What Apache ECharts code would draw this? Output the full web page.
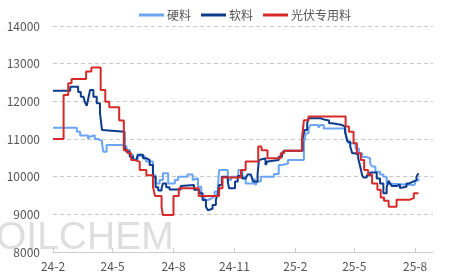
<!DOCTYPE html>
<html><head><meta charset="utf-8">
<script src="https://cdn.jsdelivr.net/npm/echarts@6/dist/echarts.min.js"></script>
<style>html,body{margin:0;padding:0;background:#fff}#c{width:457px;height:278px}</style>
</head><body><div id="c"></div>
<script>
var seriesNames = ['硬料', '软料', '光伏专用料'];
var tickDates = ['2024-02-01','2024-05-01','2024-08-01','2024-11-01','2025-02-01','2025-05-01','2025-08-01'];
var tickLabels = ['24-2','24-5','24-8','24-11','25-2','25-5','25-8'];
var startDate = '2024-02-01';
var endDate = '2025-08-28';
var yTicks = [8000, 9000, 10000, 11000, 12000, 13000, 14000];

var hardData = [
 ['2024-02-01',11300],['2024-03-08',11190],['2024-03-13',11090],['2024-03-25',11000],['2024-03-27',11060],
 ['2024-03-28',11100],['2024-04-04',11000],['2024-04-09',10950],['2024-04-15',10890],['2024-04-17',10660],
 ['2024-04-22',10840],['2024-05-14',10810],['2024-05-22',10710],['2024-05-27',10580],['2024-06-01',10460],
 ['2024-06-08',10550],['2024-06-18',10500],['2024-06-21',10400],['2024-07-01',10040],['2024-07-05',9820],
 ['2024-07-11',9910],['2024-07-16',10090],['2024-07-24',9820],['2024-08-03',9910],['2024-08-08',10000],
 ['2024-08-22',10060],['2024-08-30',9910],['2024-09-01',9960],['2024-09-07',9730],['2024-09-12',9470],
 ['2024-09-17',9380],['2024-09-22',9420],['2024-09-27',9470],['2024-10-02',9600],['2024-10-07',9720],
 ['2024-10-09',10180],['2024-10-22',9910],['2024-10-27',10000],['2024-11-07',10180],['2024-11-13',10000],
 ['2024-11-18',9820],['2024-12-01',9960],['2024-12-03',9780],['2024-12-06',9870],['2024-12-11',10000],
 ['2024-12-31',10070],['2025-01-07',10310],['2025-01-12',10350],['2025-01-21',10440],['2025-02-14',10890],
 ['2025-02-17',11150],['2025-02-21',11280],['2025-02-24',11370],['2025-03-08',11300],['2025-03-11',11370],
 ['2025-03-16',11280],['2025-04-18',11150],['2025-04-20',10970],['2025-04-23',10890],['2025-05-03',10750],
 ['2025-05-08',10620],['2025-05-13',10520],['2025-05-20',10490],['2025-05-25',10350],['2025-05-28',10270],
 ['2025-06-02',10130],['2025-06-09',10060],['2025-06-14',10000],['2025-06-19',9820],['2025-06-22',9780],
 ['2025-07-31',9800],['2025-08-02',9900],['2025-08-06',9960]
];
var softData = [
 ['2024-02-01',12280],['2024-02-27',12390],['2024-03-05',12390],['2024-03-10',12250],['2024-03-14',12120],
 ['2024-03-18',12080],['2024-03-20',11990],['2024-03-23',11880],['2024-03-25',12050],['2024-03-28',12300],
 ['2024-04-02',12120],['2024-04-07',11950],['2024-04-12',11680],['2024-04-15',11240],['2024-04-17',11190],
 ['2024-05-19',10800],['2024-05-22',10660],['2024-05-27',10530],['2024-06-01',10440],['2024-06-06',10400],
 ['2024-06-08',10580],['2024-06-16',10490],['2024-06-21',10440],['2024-06-26',10310],['2024-07-01',10000],
 ['2024-07-05',9720],['2024-07-09',9630],['2024-07-14',9690],['2024-07-16',9820],['2024-07-21',9720],
 ['2024-07-26',9660],['2024-08-12',9750],['2024-08-15',9780],['2024-09-01',9650],['2024-09-09',9560],
 ['2024-09-14',9380],['2024-09-19',9200],['2024-09-22',9110],['2024-09-24',9150],['2024-09-29',9250],
 ['2024-10-04',9380],['2024-10-07',9560],['2024-10-09',9780],['2024-10-13',10000],['2024-10-22',9870],
 ['2024-10-24',9690],['2024-11-02',9870],['2024-11-06',10020],['2024-11-11',10180],['2024-11-13',9950],
 ['2024-11-18',9910],['2024-11-21',10060],['2024-11-26',10020],['2024-11-29',9870],['2024-12-06',10060],
 ['2024-12-08',10440],['2024-12-11',10490],['2024-12-18',10310],['2024-12-21',10400],['2024-12-23',10440],
 ['2025-01-07',10530],['2025-01-12',10620],['2025-01-15',10690],['2025-02-12',11000],['2025-02-15',11240],
 ['2025-02-19',11420],['2025-02-21',11550],['2025-03-11',11520],['2025-03-16',11490],['2025-03-24',11420],
 ['2025-03-29',11370],['2025-04-13',11330],['2025-04-17',11190],['2025-04-19',11060],['2025-04-21',10930],
 ['2025-04-25',10800],['2025-04-28',10620],['2025-05-03',10580],['2025-05-07',10490],['2025-05-10',10270],
 ['2025-05-13',10040],['2025-05-15',9980],['2025-05-20',10040],['2025-05-25',10110],['2025-06-04',9950],
 ['2025-06-09',9820],['2025-06-14',9560],['2025-06-19',9720],['2025-06-22',9890],['2025-06-24',9820],
 ['2025-06-27',9750],['2025-07-04',9790],['2025-07-09',9700],['2025-07-12',9730],['2025-07-19',9820],
 ['2025-07-23',9870],['2025-07-29',9910],['2025-08-03',10000],['2025-08-06',10090]
];
var pvData = [
 ['2024-02-01',11000],['2024-02-17',12170],['2024-02-24',12480],['2024-02-29',12590],['2024-03-22',12790],
 ['2024-03-30',12900],['2024-04-13',12300],['2024-04-20',11990],['2024-04-26',11840],['2024-05-11',11490],
 ['2024-05-18',10700],['2024-05-24',10620],['2024-05-29',10440],['2024-06-03',10400],['2024-06-11',10180],
 ['2024-06-21',10040],['2024-07-01',9730],['2024-07-04',9490],['2024-07-14',9200],['2024-07-16',8980],
 ['2024-08-01',9490],['2024-08-09',9690],['2024-09-08',9490],['2024-10-09',9690],['2024-10-14',9980],
 ['2024-11-11',10180],['2024-11-18',10400],['2024-12-07',10800],['2024-12-12',10700],['2024-12-21',10490],
 ['2025-01-10',10620],['2025-01-15',10690],['2025-02-11',11000],['2025-02-14',11500],['2025-02-21',11600],
 ['2025-04-18',11330],['2025-04-23',11190],['2025-04-30',10890],['2025-05-05',10620],['2025-05-11',10440],
 ['2025-05-16',10180],['2025-05-22',10050],['2025-05-28',9820],['2025-06-05',9650],['2025-06-10',9450],
 ['2025-06-15',9360],['2025-06-22',9200],['2025-07-04',9390],['2025-07-24',9430],['2025-07-30',9560],
 ['2025-08-06',9560]
];

function buildDates(a, b) {
  var out = [];
  var d = new Date(a + 'T00:00:00Z'), e = new Date(b + 'T00:00:00Z');
  while (d <= e) { out.push(d.toISOString().slice(0, 10)); d.setUTCDate(d.getUTCDate() + 1); }
  return out;
}
var categories = buildDates(startDate, endDate);
function isTick(i, v) { return tickDates.indexOf(v) >= 0; }

var wmLetters = ['O', 'I', 'L', 'C', 'H', 'E', 'M'];
var wmShades = ['#c9c9c9', '#cecece', '#d4d4d4', '#dadada', '#e0e0e0', '#e6e6e6', '#ebebeb'];
var wmRich = {};
var wmText = wmLetters.map(function (ch, i) {
  wmRich['s' + i] = {color: wmShades[i], fontSize: 39, fontFamily: '"Liberation Sans", Arial, sans-serif'};
  return '{s' + i + '|' + ch + '}';
}).join('');

var chart = echarts.init(document.getElementById('c'), null, {renderer: 'canvas'});
var font = '"Noto Sans CJK SC", "Noto Sans", sans-serif';
var colors = ['#6aa5f6', '#0c3b8c', '#d62a28'];
var datas = [hardData, softData, pvData];
chart.setOption({
  animation: false,
  color: colors,
  textStyle: {fontFamily: font},
  legend: {
    top: 4, left: 134, icon: 'rect', itemWidth: 25, itemHeight: 3, itemGap: 10,
    textStyle: {color: '#555', fontSize: 12, fontFamily: font, padding: [0, 0, 0, -2]},
    data: seriesNames
  },
  graphic: [{
    type: 'text', left: -4, top: 219, z: 0, silent: true,
    style: {text: wmText, rich: wmRich, fill: '#dedede', fontSize: 39}
  }],
  grid: {left: 53, right: 24, top: 26, bottom: 26, containLabel: false},
  xAxis: {
    type: 'category', data: categories, boundaryGap: false,
    axisLine: {lineStyle: {color: '#ccc'}},
    axisTick: {interval: isTick, inside: true, length: 4, lineStyle: {color: '#ccc'}},
    axisLabel: {
      interval: isTick, color: '#555', fontSize: 12, margin: 8,
      formatter: function (v) { var k = tickDates.indexOf(v); return k >= 0 ? tickLabels[k] : ''; }
    },
    splitLine: {show: false}
  },
  yAxis: {
    type: 'value', min: yTicks[0], max: yTicks[yTicks.length - 1], interval: 1000,
    axisLine: {show: false}, axisTick: {show: false},
    axisLabel: {color: '#555', fontSize: 12, margin: 13, formatter: function (v) { return String(v); }},
    splitLine: {lineStyle: {color: '#c8c8c8', type: [4, 3]}}
  },
  series: seriesNames.map(function (n, i) {
    return {
      name: n, type: 'line', step: 'end', symbol: 'none', z: 3 + i,
      lineStyle: {width: 2, color: colors[i]}, itemStyle: {color: colors[i]},
      data: datas[i]
    };
  })
});
</script></body></html>
